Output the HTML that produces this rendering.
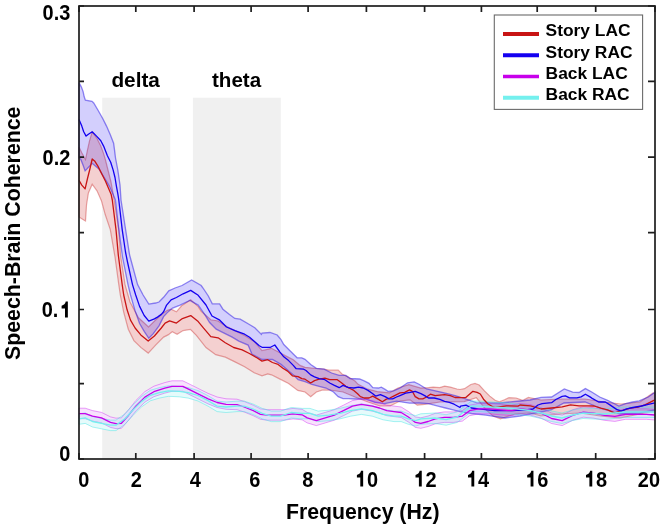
<!DOCTYPE html>
<html><head><meta charset="utf-8"><style>
html,body{margin:0;padding:0;background:#fff;}
body{width:664px;height:527px;overflow:hidden;}
svg{display:block;}
text{font-family:"Liberation Sans",sans-serif;}
svg{will-change:transform;}
</style></head><body>
<svg width="664" height="527" viewBox="0 0 664 527">
<rect x="102.2" y="97.7" width="67.99999999999999" height="361.3" fill="#f0f0f0"/>
<rect x="192.9" y="97.7" width="87.9" height="361.3" fill="#f0f0f0"/>
<polygon points="79.0,147.0 81.8,152.7 85.5,159.5 87.5,149.8 89.4,141.3 92.2,131.8 97.0,138.5 100.8,146.1 103.6,153.6 105.5,160.0 108.0,170.0 111.0,182.0 114.2,200.0 118.8,229.6 120.5,255.0 125.0,284.6 130.0,302.0 138.5,317.8 148.5,327.0 155.6,320.0 162.0,314.0 167.3,310.3 171.1,309.2 176.4,311.8 181.6,305.8 190.7,299.8 198.2,306.6 201.2,311.3 210.8,319.8 218.1,321.0 225.3,325.8 235.0,330.6 244.6,335.4 254.2,341.4 262.0,350.7 271.5,348.3 285.7,355.9 293.3,359.7 300.0,365.4 305.0,367.3 316.0,368.5 324.0,369.0 328.7,370.2 338.2,370.2 342.0,374.0 348.4,377.1 355.0,381.0 358.1,384.3 367.7,389.2 377.3,391.6 389.4,392.8 398.0,388.0 408.9,384.6 420.8,388.1 428.5,387.6 433.2,387.1 439.8,387.6 444.6,386.1 450.3,387.1 456.9,389.0 460.0,389.5 464.5,388.7 470.8,384.5 475.0,383.4 479.2,385.0 484.5,390.8 489.8,396.1 495.1,400.3 499.3,401.9 504.5,399.8 508.9,397.7 516.1,398.0 522.5,400.3 523.9,399.8 528.4,397.4 541.0,400.0 562.0,399.0 585.0,399.0 604.0,402.0 621.0,404.0 640.0,402.0 652.8,393.2 655.0,393.0 655.0,411.0 640.0,414.0 620.0,418.0 600.0,416.0 580.0,413.0 560.0,414.0 541.0,416.0 530.0,413.0 515.0,414.0 500.4,418.8 493.1,416.1 486.0,409.9 476.4,397.8 464.2,401.6 440.0,402.0 424.5,404.3 417.2,405.2 410.0,399.8 400.0,401.0 390.0,406.0 380.0,406.0 368.0,402.0 355.0,397.0 343.0,392.0 330.0,390.0 322.1,390.1 316.4,392.0 310.7,396.7 305.0,392.0 297.8,390.4 288.6,383.4 281.0,379.6 271.5,374.8 267.7,373.9 262.0,375.8 254.2,372.8 244.6,366.7 235.0,361.9 225.3,357.1 215.7,354.7 206.0,347.5 196.4,335.4 190.4,329.4 183.1,330.6 177.1,334.2 172.3,331.8 168.0,334.9 163.6,337.1 155.6,345.1 148.2,353.1 140.8,347.4 133.9,340.6 128.3,329.2 123.7,312.1 120.3,295.0 118.8,284.6 115.0,257.0 110.3,229.6 105.3,214.8 101.5,201.0 97.0,190.8 92.2,184.2 88.4,193.0 86.5,205.0 85.5,221.0 83.0,219.5 79.0,217.0" fill="#fff"/>
<polygon points="79.0,82.5 81.4,87.1 83.1,91.6 84.2,96.8 85.4,100.2 92.0,101.3 93.7,103.0 97.9,110.0 102.7,118.5 106.5,126.1 110.3,134.7 113.6,143.2 114.5,149.8 115.5,158.0 117.8,170.0 120.0,185.0 121.0,200.0 125.6,229.6 129.6,255.0 137.6,284.6 143.1,295.0 148.8,304.1 155.6,303.0 159.0,302.0 163.6,297.3 168.8,290.8 175.0,288.0 182.0,285.5 191.6,280.0 201.2,285.5 203.0,288.0 208.3,296.0 212.3,303.9 219.6,303.9 222.9,309.2 229.5,314.5 234.8,318.5 240.2,319.2 248.1,323.8 254.8,327.8 261.4,334.4 262.0,333.0 270.0,332.5 277.2,335.0 281.0,339.7 283.8,344.5 289.5,350.2 297.1,357.8 301.8,357.8 305.0,359.3 310.7,364.5 316.4,368.3 324.0,369.2 331.6,373.0 339.2,375.4 345.8,375.4 350.0,378.5 359.5,379.0 364.2,380.9 369.0,383.3 372.8,387.6 378.5,388.0 381.3,387.1 385.1,389.4 388.0,391.3 393.6,390.9 400.0,388.0 407.6,382.8 414.2,381.9 419.0,384.2 426.6,389.0 433.2,390.4 439.8,391.8 447.4,393.7 455.0,395.6 460.0,397.0 476.4,402.7 500.0,403.0 520.0,401.0 530.0,400.0 541.1,397.4 551.6,397.0 564.3,389.0 572.7,392.1 579.0,392.5 585.4,388.6 591.7,392.0 599.7,397.0 607.6,400.3 612.0,402.5 618.9,406.0 625.7,403.7 632.5,402.0 639.2,400.9 648.3,397.0 653.9,393.0 655.0,392.0 655.0,410.0 640.0,413.0 620.0,414.0 600.0,408.0 585.0,402.0 564.0,403.0 551.0,410.0 541.0,412.0 520.0,416.0 505.0,418.0 490.8,415.9 485.9,415.2 471.6,413.5 460.0,411.7 453.1,409.8 445.5,408.0 438.0,406.1 428.5,403.7 419.0,403.0 409.5,403.2 396.6,401.2 384.6,403.6 375.0,402.4 365.3,398.8 355.0,399.0 348.6,398.6 343.0,398.6 338.2,396.7 333.5,392.0 326.0,388.0 319.2,386.3 312.0,384.5 305.0,381.6 298.1,379.6 294.3,375.8 288.6,371.1 281.0,364.4 272.4,359.5 262.0,359.5 252.0,354.2 248.1,345.1 238.8,341.1 232.2,337.1 221.6,331.8 216.2,329.1 209.6,322.5 205.6,315.9 198.2,305.1 189.9,300.5 180.1,305.1 172.6,308.1 167.3,312.6 163.6,316.6 159.0,325.8 153.3,333.7 148.8,338.3 144.2,331.4 139.6,323.5 135.1,310.9 130.5,295.0 128.0,284.6 122.5,257.0 118.8,229.6 115.4,200.0 113.1,194.6 109.3,186.1 103.6,176.6 98.9,169.0 92.2,163.3 85.1,170.9 83.0,165.0 80.8,159.5 79.0,158.0" fill="#fff"/>
<polygon points="79.0,408.2 85.2,408.2 92.5,410.6 101.5,412.4 110.5,416.9 116.0,418.2 121.4,417.8 128.6,409.7 135.8,400.6 144.9,391.6 153.9,386.2 164.8,382.6 172.0,380.8 182.8,380.8 190.1,384.4 199.0,388.9 208.1,393.4 217.1,397.0 226.1,398.8 237.0,399.2 244.2,401.5 253.3,405.2 260.5,408.8 267.7,409.7 276.8,409.7 284.0,409.7 293.0,408.4 302.1,409.3 307.2,412.4 316.3,415.1 325.3,412.4 334.3,409.7 343.4,405.2 352.4,400.6 361.4,398.8 372.3,400.6 379.5,402.5 386.8,405.2 394.0,406.1 401.2,407.0 408.4,411.5 415.4,416.9 420.8,417.8 428.1,416.0 435.3,413.3 444.3,411.9 453.4,411.9 462.4,410.6 469.6,405.2 478.7,403.4 489.5,403.4 500.4,404.3 511.2,405.2 520.0,403.5 530.0,404.5 541.1,407.7 551.6,413.0 562.2,415.1 572.7,409.8 583.3,406.7 593.8,407.7 604.3,409.8 614.9,410.9 625.4,408.8 636.0,408.8 646.5,408.8 655.0,409.5 655.0,420.0 646.5,419.3 636.0,419.3 625.4,419.3 614.9,421.4 604.3,420.3 593.8,418.2 583.3,417.2 572.7,420.3 562.2,425.6 551.6,423.5 541.1,418.2 530.0,415.0 520.0,414.0 511.2,415.7 500.4,414.8 489.5,413.9 478.7,413.9 469.6,415.7 462.4,421.1 453.4,422.4 444.3,422.4 435.3,423.8 428.1,426.5 420.8,428.3 415.4,427.4 408.4,422.0 401.2,417.5 394.0,416.6 386.8,415.7 379.5,413.0 372.3,411.1 361.4,409.3 352.4,411.1 343.4,415.7 334.3,420.2 325.3,422.9 316.3,425.6 307.2,422.9 302.1,419.8 293.0,418.9 284.0,420.2 276.8,420.2 267.7,420.2 260.5,419.3 253.3,415.7 244.2,412.0 237.0,409.7 226.1,409.3 217.1,407.5 208.1,403.9 199.0,399.4 190.1,394.9 182.8,391.3 172.0,391.3 164.8,393.1 153.9,396.7 144.9,402.1 135.8,411.1 128.6,420.2 121.4,428.3 116.0,428.7 110.5,427.4 101.5,422.9 92.5,421.1 85.2,418.7 79.0,418.7" fill="#fff"/>
<polygon points="79.0,413.8 85.2,412.9 92.5,416.5 101.5,418.3 110.5,420.1 116.0,420.1 125.0,413.8 132.2,405.7 141.3,396.6 150.3,390.3 159.3,387.6 168.4,385.8 179.2,386.3 188.2,387.6 198.0,390.5 208.1,395.7 217.1,401.1 226.1,402.0 237.0,401.1 244.2,401.1 253.0,404.0 262.3,408.4 271.3,411.1 280.4,411.1 291.2,407.5 302.1,408.4 310.0,408.4 318.1,411.1 328.9,410.2 339.8,408.4 350.6,405.7 361.4,403.9 372.3,405.7 383.1,409.3 394.0,411.1 401.2,411.1 408.4,413.8 415.7,415.6 420.8,413.8 435.0,413.0 446.1,414.7 457.0,412.0 464.2,406.6 471.4,401.1 480.0,401.1 491.0,402.0 504.1,402.7 516.1,403.9 530.0,405.5 541.0,408.0 551.6,411.0 562.0,413.0 572.7,410.0 583.0,408.0 604.0,409.0 625.0,407.0 646.0,407.0 655.0,407.0 655.0,417.5 646.0,417.5 625.0,417.5 604.0,419.5 583.0,418.5 572.7,420.5 562.0,423.5 551.6,421.5 541.0,418.5 530.0,416.0 516.1,414.4 504.1,413.2 491.0,412.5 480.0,411.6 471.4,411.6 464.2,417.1 457.0,422.5 446.1,425.2 435.0,423.5 420.8,424.3 415.7,426.1 408.4,424.3 401.2,421.6 394.0,421.6 383.1,419.8 372.3,416.2 361.4,414.4 350.6,416.2 339.8,418.9 328.9,420.7 318.1,421.6 310.0,418.9 302.1,418.9 291.2,418.0 280.4,421.6 271.3,421.6 262.3,418.9 253.0,414.5 244.2,411.6 237.0,411.6 226.1,412.5 217.1,411.6 208.1,406.2 198.0,401.0 188.2,398.1 179.2,396.8 168.4,396.3 159.3,398.1 150.3,400.8 141.3,407.1 132.2,416.2 125.0,424.3 116.0,430.6 110.5,430.6 101.5,428.8 92.5,427.0 85.2,423.4 79.0,424.3" fill="#fff"/>
<polygon points="79.0,147.0 81.8,152.7 85.5,159.5 87.5,149.8 89.4,141.3 92.2,131.8 97.0,138.5 100.8,146.1 103.6,153.6 105.5,160.0 108.0,170.0 111.0,182.0 114.2,200.0 118.8,229.6 120.5,255.0 125.0,284.6 130.0,302.0 138.5,317.8 148.5,327.0 155.6,320.0 162.0,314.0 167.3,310.3 171.1,309.2 176.4,311.8 181.6,305.8 190.7,299.8 198.2,306.6 201.2,311.3 210.8,319.8 218.1,321.0 225.3,325.8 235.0,330.6 244.6,335.4 254.2,341.4 262.0,350.7 271.5,348.3 285.7,355.9 293.3,359.7 300.0,365.4 305.0,367.3 316.0,368.5 324.0,369.0 328.7,370.2 338.2,370.2 342.0,374.0 348.4,377.1 355.0,381.0 358.1,384.3 367.7,389.2 377.3,391.6 389.4,392.8 398.0,388.0 408.9,384.6 420.8,388.1 428.5,387.6 433.2,387.1 439.8,387.6 444.6,386.1 450.3,387.1 456.9,389.0 460.0,389.5 464.5,388.7 470.8,384.5 475.0,383.4 479.2,385.0 484.5,390.8 489.8,396.1 495.1,400.3 499.3,401.9 504.5,399.8 508.9,397.7 516.1,398.0 522.5,400.3 523.9,399.8 528.4,397.4 541.0,400.0 562.0,399.0 585.0,399.0 604.0,402.0 621.0,404.0 640.0,402.0 652.8,393.2 655.0,393.0 655.0,411.0 640.0,414.0 620.0,418.0 600.0,416.0 580.0,413.0 560.0,414.0 541.0,416.0 530.0,413.0 515.0,414.0 500.4,418.8 493.1,416.1 486.0,409.9 476.4,397.8 464.2,401.6 440.0,402.0 424.5,404.3 417.2,405.2 410.0,399.8 400.0,401.0 390.0,406.0 380.0,406.0 368.0,402.0 355.0,397.0 343.0,392.0 330.0,390.0 322.1,390.1 316.4,392.0 310.7,396.7 305.0,392.0 297.8,390.4 288.6,383.4 281.0,379.6 271.5,374.8 267.7,373.9 262.0,375.8 254.2,372.8 244.6,366.7 235.0,361.9 225.3,357.1 215.7,354.7 206.0,347.5 196.4,335.4 190.4,329.4 183.1,330.6 177.1,334.2 172.3,331.8 168.0,334.9 163.6,337.1 155.6,345.1 148.2,353.1 140.8,347.4 133.9,340.6 128.3,329.2 123.7,312.1 120.3,295.0 118.8,284.6 115.0,257.0 110.3,229.6 105.3,214.8 101.5,201.0 97.0,190.8 92.2,184.2 88.4,193.0 86.5,205.0 85.5,221.0 83.0,219.5 79.0,217.0" fill="rgb(200,20,20)" fill-opacity="0.2" stroke="rgb(200,40,40)" stroke-opacity="0.4" stroke-width="1.2"/>
<polygon points="79.0,82.5 81.4,87.1 83.1,91.6 84.2,96.8 85.4,100.2 92.0,101.3 93.7,103.0 97.9,110.0 102.7,118.5 106.5,126.1 110.3,134.7 113.6,143.2 114.5,149.8 115.5,158.0 117.8,170.0 120.0,185.0 121.0,200.0 125.6,229.6 129.6,255.0 137.6,284.6 143.1,295.0 148.8,304.1 155.6,303.0 159.0,302.0 163.6,297.3 168.8,290.8 175.0,288.0 182.0,285.5 191.6,280.0 201.2,285.5 203.0,288.0 208.3,296.0 212.3,303.9 219.6,303.9 222.9,309.2 229.5,314.5 234.8,318.5 240.2,319.2 248.1,323.8 254.8,327.8 261.4,334.4 262.0,333.0 270.0,332.5 277.2,335.0 281.0,339.7 283.8,344.5 289.5,350.2 297.1,357.8 301.8,357.8 305.0,359.3 310.7,364.5 316.4,368.3 324.0,369.2 331.6,373.0 339.2,375.4 345.8,375.4 350.0,378.5 359.5,379.0 364.2,380.9 369.0,383.3 372.8,387.6 378.5,388.0 381.3,387.1 385.1,389.4 388.0,391.3 393.6,390.9 400.0,388.0 407.6,382.8 414.2,381.9 419.0,384.2 426.6,389.0 433.2,390.4 439.8,391.8 447.4,393.7 455.0,395.6 460.0,397.0 476.4,402.7 500.0,403.0 520.0,401.0 530.0,400.0 541.1,397.4 551.6,397.0 564.3,389.0 572.7,392.1 579.0,392.5 585.4,388.6 591.7,392.0 599.7,397.0 607.6,400.3 612.0,402.5 618.9,406.0 625.7,403.7 632.5,402.0 639.2,400.9 648.3,397.0 653.9,393.0 655.0,392.0 655.0,410.0 640.0,413.0 620.0,414.0 600.0,408.0 585.0,402.0 564.0,403.0 551.0,410.0 541.0,412.0 520.0,416.0 505.0,418.0 490.8,415.9 485.9,415.2 471.6,413.5 460.0,411.7 453.1,409.8 445.5,408.0 438.0,406.1 428.5,403.7 419.0,403.0 409.5,403.2 396.6,401.2 384.6,403.6 375.0,402.4 365.3,398.8 355.0,399.0 348.6,398.6 343.0,398.6 338.2,396.7 333.5,392.0 326.0,388.0 319.2,386.3 312.0,384.5 305.0,381.6 298.1,379.6 294.3,375.8 288.6,371.1 281.0,364.4 272.4,359.5 262.0,359.5 252.0,354.2 248.1,345.1 238.8,341.1 232.2,337.1 221.6,331.8 216.2,329.1 209.6,322.5 205.6,315.9 198.2,305.1 189.9,300.5 180.1,305.1 172.6,308.1 167.3,312.6 163.6,316.6 159.0,325.8 153.3,333.7 148.8,338.3 144.2,331.4 139.6,323.5 135.1,310.9 130.5,295.0 128.0,284.6 122.5,257.0 118.8,229.6 115.4,200.0 113.1,194.6 109.3,186.1 103.6,176.6 98.9,169.0 92.2,163.3 85.1,170.9 83.0,165.0 80.8,159.5 79.0,158.0" fill="rgb(20,0,245)" fill-opacity="0.19" stroke="rgb(40,20,230)" stroke-opacity="0.5" stroke-width="1.3"/>
<polygon points="79.0,408.2 85.2,408.2 92.5,410.6 101.5,412.4 110.5,416.9 116.0,418.2 121.4,417.8 128.6,409.7 135.8,400.6 144.9,391.6 153.9,386.2 164.8,382.6 172.0,380.8 182.8,380.8 190.1,384.4 199.0,388.9 208.1,393.4 217.1,397.0 226.1,398.8 237.0,399.2 244.2,401.5 253.3,405.2 260.5,408.8 267.7,409.7 276.8,409.7 284.0,409.7 293.0,408.4 302.1,409.3 307.2,412.4 316.3,415.1 325.3,412.4 334.3,409.7 343.4,405.2 352.4,400.6 361.4,398.8 372.3,400.6 379.5,402.5 386.8,405.2 394.0,406.1 401.2,407.0 408.4,411.5 415.4,416.9 420.8,417.8 428.1,416.0 435.3,413.3 444.3,411.9 453.4,411.9 462.4,410.6 469.6,405.2 478.7,403.4 489.5,403.4 500.4,404.3 511.2,405.2 520.0,403.5 530.0,404.5 541.1,407.7 551.6,413.0 562.2,415.1 572.7,409.8 583.3,406.7 593.8,407.7 604.3,409.8 614.9,410.9 625.4,408.8 636.0,408.8 646.5,408.8 655.0,409.5 655.0,420.0 646.5,419.3 636.0,419.3 625.4,419.3 614.9,421.4 604.3,420.3 593.8,418.2 583.3,417.2 572.7,420.3 562.2,425.6 551.6,423.5 541.1,418.2 530.0,415.0 520.0,414.0 511.2,415.7 500.4,414.8 489.5,413.9 478.7,413.9 469.6,415.7 462.4,421.1 453.4,422.4 444.3,422.4 435.3,423.8 428.1,426.5 420.8,428.3 415.4,427.4 408.4,422.0 401.2,417.5 394.0,416.6 386.8,415.7 379.5,413.0 372.3,411.1 361.4,409.3 352.4,411.1 343.4,415.7 334.3,420.2 325.3,422.9 316.3,425.6 307.2,422.9 302.1,419.8 293.0,418.9 284.0,420.2 276.8,420.2 267.7,420.2 260.5,419.3 253.3,415.7 244.2,412.0 237.0,409.7 226.1,409.3 217.1,407.5 208.1,403.9 199.0,399.4 190.1,394.9 182.8,391.3 172.0,391.3 164.8,393.1 153.9,396.7 144.9,402.1 135.8,411.1 128.6,420.2 121.4,428.3 116.0,428.7 110.5,427.4 101.5,422.9 92.5,421.1 85.2,418.7 79.0,418.7" fill="rgb(200,20,240)" fill-opacity="0.12" stroke="rgb(200,20,240)" stroke-opacity="0.4" stroke-width="1"/>
<polygon points="79.0,413.8 85.2,412.9 92.5,416.5 101.5,418.3 110.5,420.1 116.0,420.1 125.0,413.8 132.2,405.7 141.3,396.6 150.3,390.3 159.3,387.6 168.4,385.8 179.2,386.3 188.2,387.6 198.0,390.5 208.1,395.7 217.1,401.1 226.1,402.0 237.0,401.1 244.2,401.1 253.0,404.0 262.3,408.4 271.3,411.1 280.4,411.1 291.2,407.5 302.1,408.4 310.0,408.4 318.1,411.1 328.9,410.2 339.8,408.4 350.6,405.7 361.4,403.9 372.3,405.7 383.1,409.3 394.0,411.1 401.2,411.1 408.4,413.8 415.7,415.6 420.8,413.8 435.0,413.0 446.1,414.7 457.0,412.0 464.2,406.6 471.4,401.1 480.0,401.1 491.0,402.0 504.1,402.7 516.1,403.9 530.0,405.5 541.0,408.0 551.6,411.0 562.0,413.0 572.7,410.0 583.0,408.0 604.0,409.0 625.0,407.0 646.0,407.0 655.0,407.0 655.0,417.5 646.0,417.5 625.0,417.5 604.0,419.5 583.0,418.5 572.7,420.5 562.0,423.5 551.6,421.5 541.0,418.5 530.0,416.0 516.1,414.4 504.1,413.2 491.0,412.5 480.0,411.6 471.4,411.6 464.2,417.1 457.0,422.5 446.1,425.2 435.0,423.5 420.8,424.3 415.7,426.1 408.4,424.3 401.2,421.6 394.0,421.6 383.1,419.8 372.3,416.2 361.4,414.4 350.6,416.2 339.8,418.9 328.9,420.7 318.1,421.6 310.0,418.9 302.1,418.9 291.2,418.0 280.4,421.6 271.3,421.6 262.3,418.9 253.0,414.5 244.2,411.6 237.0,411.6 226.1,412.5 217.1,411.6 208.1,406.2 198.0,401.0 188.2,398.1 179.2,396.8 168.4,396.3 159.3,398.1 150.3,400.8 141.3,407.1 132.2,416.2 125.0,424.3 116.0,430.6 110.5,430.6 101.5,428.8 92.5,427.0 85.2,423.4 79.0,424.3" fill="rgb(80,230,230)" fill-opacity="0.15" stroke="rgb(80,230,230)" stroke-opacity="0.5" stroke-width="1"/>
<polyline points="79.0,180.4 81.8,185.1 85.1,188.9 87.5,178.5 89.9,169.0 92.2,159.0 94.6,160.9 97.9,166.1 101.7,173.7 105.5,181.3 108.4,188.0 111.2,194.6 112.3,200.0 116.0,229.6 118.3,255.0 122.2,284.6 123.7,295.0 127.1,309.8 130.5,320.1 135.1,328.0 140.8,334.9 148.2,341.1 154.4,336.0 161.3,328.0 165.1,323.1 169.6,320.9 176.4,323.1 182.4,318.6 190.7,315.6 198.2,321.6 203.6,328.2 210.8,336.6 218.1,337.8 225.3,342.7 233.7,347.5 242.2,349.9 249.4,353.5 256.9,357.8 262.0,361.1 267.7,359.7 272.4,362.5 278.1,364.4 282.9,368.2 287.6,371.1 292.4,375.8 298.1,376.7 301.8,378.6 305.0,379.2 310.7,383.0 314.5,380.6 319.2,379.2 324.9,378.2 329.7,379.7 337.3,379.7 341.1,382.5 345.8,386.3 350.0,388.5 353.8,390.4 357.6,393.7 360.4,396.6 364.2,398.0 369.0,398.0 372.8,396.1 378.5,399.4 382.3,401.8 386.0,399.4 389.8,398.0 393.6,396.1 400.0,392.8 404.7,392.3 409.5,389.9 412.3,391.3 415.2,396.6 419.0,398.9 422.8,398.9 426.6,397.0 430.4,394.2 435.1,395.6 439.8,395.1 444.6,394.7 450.3,395.6 455.0,397.5 460.3,397.7 465.5,397.7 472.9,391.3 477.1,392.4 480.3,394.0 483.5,399.2 488.0,404.0 493.3,407.0 495.1,407.4 506.5,405.8 518.0,406.1 520.0,405.0 530.5,405.8 541.1,409.0 551.6,408.0 562.2,406.9 570.6,404.8 579.0,405.8 587.5,405.8 594.0,406.0 600.8,408.2 607.6,409.9 614.4,412.8 622.3,410.5 630.2,408.2 638.1,407.1 644.9,404.9 653.9,400.3 655.0,400.0" fill="none" stroke="#c81414" stroke-width="1.3" stroke-linejoin="round"/>
<polyline points="79.0,119.5 81.8,126.1 83.7,131.8 86.1,136.1 88.4,134.2 92.2,131.8 97.0,136.6 100.8,140.8 103.6,146.1 107.4,155.7 110.7,162.3 113.1,169.9 115.0,177.5 116.4,186.1 117.8,193.6 118.8,200.0 122.2,229.6 125.5,252.0 127.5,262.0 132.5,284.6 135.7,295.0 139.6,306.4 144.2,315.5 148.8,321.2 154.4,318.9 157.5,317.1 161.3,314.4 163.6,311.8 166.6,305.1 171.1,299.8 176.4,297.5 183.1,293.8 190.7,290.4 198.2,295.3 206.0,305.0 212.0,316.0 219.3,319.8 226.5,327.0 234.9,330.6 244.6,334.2 249.6,337.3 259.3,345.8 262.0,347.3 270.5,347.3 274.8,345.0 280.0,352.1 283.8,356.8 288.6,360.6 293.3,365.4 296.2,368.7 303.7,369.2 306.0,370.5 310.7,374.9 314.5,376.8 319.2,378.7 324.9,379.7 329.7,383.0 334.4,385.4 339.2,387.7 343.0,385.4 348.6,387.7 350.0,387.6 353.8,388.0 358.5,387.1 363.3,388.0 368.0,390.4 372.8,393.7 375.6,396.1 380.4,394.7 385.1,396.6 388.9,398.9 392.7,398.9 396.5,397.0 400.0,395.6 405.7,393.2 410.4,392.3 415.2,391.3 420.9,393.7 424.7,395.6 428.5,398.0 434.2,398.0 439.8,399.4 444.6,401.3 449.3,402.3 454.1,404.2 460.0,407.5 460.6,406.1 466.0,405.2 471.4,408.0 478.7,408.9 487.7,409.8 494.9,410.7 504.0,410.7 513.0,410.7 520.0,410.0 525.3,410.0 533.0,409.0 538.0,405.0 542.1,403.7 551.6,402.7 555.8,399.5 562.2,396.3 565.3,395.8 569.5,397.9 576.9,397.9 581.1,396.9 585.4,394.2 590.0,396.9 591.8,398.1 598.6,402.0 605.3,402.0 609.9,404.9 616.6,409.4 621.2,411.1 626.8,408.8 633.0,407.5 641.5,406.0 648.3,404.3 653.9,403.2 655.0,403.0" fill="none" stroke="#1400f0" stroke-width="1.3" stroke-linejoin="round"/>
<polyline points="79.0,413.7 85.2,413.7 92.5,416.1 101.5,417.9 110.5,422.4 116.0,423.7 121.4,423.3 128.6,415.2 135.8,406.1 144.9,397.1 153.9,391.7 164.8,388.1 172.0,386.3 182.8,386.3 190.1,389.9 199.0,394.4 208.1,398.9 217.1,402.5 226.1,404.3 237.0,404.7 244.2,407.0 253.3,410.7 260.5,414.3 267.7,415.2 276.8,415.2 284.0,415.2 293.0,413.9 302.1,414.8 307.2,417.9 316.3,420.6 325.3,417.9 334.3,415.2 343.4,410.7 352.4,406.1 361.4,404.3 372.3,406.1 379.5,408.0 386.8,410.7 394.0,411.6 401.2,412.5 408.4,417.0 415.4,422.4 420.8,423.3 428.1,421.5 435.3,418.8 444.3,417.4 453.4,417.4 462.4,416.1 469.6,410.7 478.7,408.9 489.5,408.9 500.4,409.8 511.2,410.7 520.0,409.0 530.0,410.0 541.1,413.2 551.6,418.5 562.2,420.6 572.7,415.3 583.3,412.2 593.8,413.2 604.3,415.3 614.9,416.4 625.4,414.3 636.0,414.3 646.5,414.3 655.0,415.0" fill="none" stroke="#c800eb" stroke-width="1.3" stroke-linejoin="round"/>
<polyline points="79.0,418.8 85.2,417.9 92.5,421.5 101.5,423.3 110.5,425.1 116.0,425.1 125.0,418.8 132.2,410.7 141.3,401.6 150.3,395.3 159.3,392.6 168.4,390.8 179.2,391.3 188.2,392.6 198.0,395.5 208.1,400.7 217.1,406.1 226.1,407.0 237.0,406.1 244.2,406.1 253.0,409.0 262.3,413.4 271.3,416.1 280.4,416.1 291.2,412.5 302.1,413.4 310.0,413.4 318.1,416.1 328.9,415.2 339.8,413.4 350.6,410.7 361.4,408.9 372.3,410.7 383.1,414.3 394.0,416.1 401.2,416.1 408.4,418.8 415.7,420.6 420.8,418.8 435.0,418.0 446.1,419.7 457.0,417.0 464.2,411.6 471.4,406.1 480.0,406.1 491.0,407.0 504.1,407.7 516.1,408.9 530.0,410.5 541.0,413.0 551.6,416.0 562.0,418.0 572.7,415.0 583.0,413.0 604.0,414.0 625.0,412.0 646.0,412.0 655.0,412.0" fill="none" stroke="#74f0ee" stroke-width="1.3" stroke-linejoin="round"/>
<rect x="79" y="6" width="576" height="453" fill="none" stroke="#1e1e1e" stroke-width="1.7"/>
<path d="M79.0,459V453M79.0,6V12M135.8,459V453M135.8,6V12M194.1,459V453M194.1,6V12M251.1,459V453M251.1,6V12M308.1,459V453M308.1,6V12M366.4,459V453M366.4,6V12M424.6,459V453M424.6,6V12M481.4,459V453M481.4,6V12M537.2,459V453M537.2,6V12M595.7,459V453M595.7,6V12M655.0,459V453M655.0,6V12M79,459.0H84M655,459.0H648M79,383.7H84M655,383.7H648M79,309.5H84M655,309.5H648M79,232.6H84M655,232.6H648M79,157.1H84M655,157.1H648M79,81.4H84M655,81.4H648M79,6.0H84M655,6.0H648" stroke="#1e1e1e" stroke-width="1.7" fill="none"/>
<text transform="translate(70.3,19.6) scale(0.95,1.06)" font-family="Liberation Sans" font-weight="bold" fill="#000" font-size="21" text-anchor="end">0.3</text>
<text transform="translate(70.3,164.6) scale(0.95,1.06)" font-family="Liberation Sans" font-weight="bold" fill="#000" font-size="21" text-anchor="end">0.2</text>
<text transform="translate(58.30779999999999,317.4) scale(0.95,1.06)" font-family="Liberation Sans" font-weight="bold" fill="#000" font-size="21" text-anchor="end">0.</text>
<path d="M225,0H368V710H262C245,620 165,545 55,525V405H225Z" transform="translate(60.51,317.4) scale(0.01995,-0.02226)" fill="#000"/>
<text transform="translate(70.3,461.4) scale(0.95,1.06)" font-family="Liberation Sans" font-weight="bold" fill="#000" font-size="21" text-anchor="end">0</text>
<text transform="translate(83.9,486.6) scale(0.95,1.06)" font-family="Liberation Sans" font-weight="bold" fill="#000" font-size="21" text-anchor="middle">0</text>
<text transform="translate(136.4,486.6) scale(0.95,1.06)" font-family="Liberation Sans" font-weight="bold" fill="#000" font-size="21" text-anchor="middle">2</text>
<text transform="translate(195.3,486.6) scale(0.95,1.06)" font-family="Liberation Sans" font-weight="bold" fill="#000" font-size="21" text-anchor="middle">4</text>
<text transform="translate(254.8,486.6) scale(0.95,1.06)" font-family="Liberation Sans" font-weight="bold" fill="#000" font-size="21" text-anchor="middle">6</text>
<text transform="translate(307.8,486.6) scale(0.95,1.06)" font-family="Liberation Sans" font-weight="bold" fill="#000" font-size="21" text-anchor="middle">8</text>
<path d="M225,0H368V710H262C245,620 165,545 55,525V405H225Z" transform="translate(355.81,486.6) scale(0.01995,-0.02226)" fill="#000"/>
<text transform="translate(366.9,486.6) scale(0.95,1.06)" font-family="Liberation Sans" font-weight="bold" fill="#000" font-size="21" text-anchor="start">0</text>
<path d="M225,0H368V710H262C245,620 165,545 55,525V405H225Z" transform="translate(414.41,486.6) scale(0.01995,-0.02226)" fill="#000"/>
<text transform="translate(425.5,486.6) scale(0.95,1.06)" font-family="Liberation Sans" font-weight="bold" fill="#000" font-size="21" text-anchor="start">2</text>
<path d="M225,0H368V710H262C245,620 165,545 55,525V405H225Z" transform="translate(466.91,486.6) scale(0.01995,-0.02226)" fill="#000"/>
<text transform="translate(478.0,486.6) scale(0.95,1.06)" font-family="Liberation Sans" font-weight="bold" fill="#000" font-size="21" text-anchor="start">4</text>
<path d="M225,0H368V710H262C245,620 165,545 55,525V405H225Z" transform="translate(526.11,486.6) scale(0.01995,-0.02226)" fill="#000"/>
<text transform="translate(537.2,486.6) scale(0.95,1.06)" font-family="Liberation Sans" font-weight="bold" fill="#000" font-size="21" text-anchor="start">6</text>
<path d="M225,0H368V710H262C245,620 165,545 55,525V405H225Z" transform="translate(584.91,486.6) scale(0.01995,-0.02226)" fill="#000"/>
<text transform="translate(596.0,486.6) scale(0.95,1.06)" font-family="Liberation Sans" font-weight="bold" fill="#000" font-size="21" text-anchor="start">8</text>
<text transform="translate(648.9,486.6) scale(0.95,1.06)" font-family="Liberation Sans" font-weight="bold" fill="#000" font-size="21" text-anchor="middle">20</text>
<text transform="translate(286,518.6) scale(0.945,1.0)" font-family="Liberation Sans" font-weight="bold" fill="#000" font-size="22.5" text-anchor="start">Frequency (Hz)</text>
<text transform="translate(19.8,360) rotate(-90) scale(0.969,1.0)" font-family="Liberation Sans" font-weight="bold" fill="#000" font-size="22" text-anchor="start">Speech-Brain Coherence</text>
<text transform="translate(111.4,87) scale(0.99,1.0)" font-family="Liberation Sans" font-weight="bold" fill="#000" font-size="21" text-anchor="start">delta</text>
<text transform="translate(212,87) scale(0.98,1.0)" font-family="Liberation Sans" font-weight="bold" fill="#000" font-size="21" text-anchor="start">theta</text>
<rect x="494.3" y="15" width="148.3" height="94.4" fill="#fff" stroke="#6a6a6a" stroke-width="1.1"/>
<line x1="503" y1="34.1" x2="539" y2="34.1" stroke="#c81414" stroke-width="4"/>
<text transform="translate(545.6,36.3) scale(1.023,1.0)" font-family="Liberation Sans" font-weight="bold" fill="#000" font-size="17" text-anchor="start">Story LAC</text>
<line x1="503" y1="55.3" x2="539" y2="55.3" stroke="#1400f0" stroke-width="4"/>
<text transform="translate(545.6,57.5) scale(1.023,1.0)" font-family="Liberation Sans" font-weight="bold" fill="#000" font-size="17" text-anchor="start">Story RAC</text>
<line x1="503" y1="76.5" x2="539" y2="76.5" stroke="#c800eb" stroke-width="3.4"/>
<text transform="translate(545.6,78.7) scale(1.023,1.0)" font-family="Liberation Sans" font-weight="bold" fill="#000" font-size="17" text-anchor="start">Back LAC</text>
<line x1="503" y1="97.7" x2="539" y2="97.7" stroke="#74f0ee" stroke-width="4"/>
<text transform="translate(545.6,99.9) scale(1.023,1.0)" font-family="Liberation Sans" font-weight="bold" fill="#000" font-size="17" text-anchor="start">Back RAC</text>
</svg>
</body></html>
